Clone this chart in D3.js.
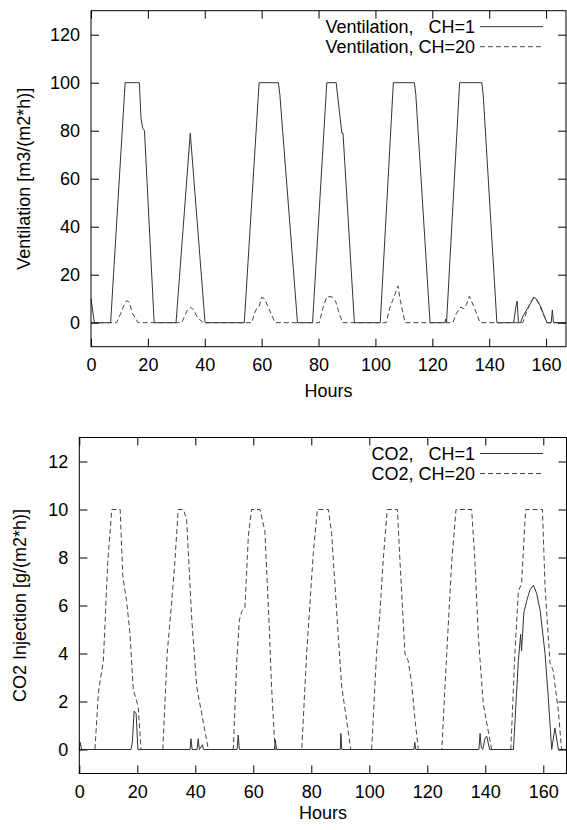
<!DOCTYPE html>
<html><head><meta charset="utf-8">
<script src="https://cdn.jsdelivr.net/npm/d3@7/dist/d3.min.js"></script>
<style>body{margin:0;background:#fff}svg{display:block}text{font-family:"Liberation Sans",Arial,sans-serif;fill:#000}</style>
</head><body><svg id="c" width="567" height="830"></svg>
<script>
// ---------- data ----------
const ventTicksY = [0,20,40,60,80,100,120];
const co2TicksY = [0,2,4,6,8,10,12];
const hourTicks = [0,20,40,60,80,100,120,140,160];

// Ventilation CH=1 (hours, value)
const vent1H = [0,1.2,6.9,12,17,17.6,18.2,18.8,22.2,29.9,34.9,40.1,53.9,59.1,65.9,66.4,72.6,77.9,82.9,86.2,88,88.2,88.6,92.6,101.7,106.3,113.7,114.2,119.2,124.4,124.7,125,129.6,137.4,137.9,142.7,148.6,149.3,149.8,150.3,151,152,153.5,155,155.6,156.5,158,160.3,161.8,162.2,162.6,167];
const vent1V = [10,0,0,100,100,85,81,80,0,0,79,0,0,100,100,95,0,0,100,100,81,79,79,0,0,100,100,95,0,0,1.5,0,100,100,95,0,0,6,9,0,0,3,6,9,10.6,10,7,0,0,5.3,0,0];
// Ventilation CH=20
const vent20H = [0,9,10.5,11.5,12.6,13.5,14.5,16.6,31.9,33,34,35,36,37.5,39.5,56.5,57.5,58.5,59.2,60,61,62.5,64.7,80.3,81.5,82.9,84.7,86,87.2,88.5,103.8,105,106.3,107.9,108.8,110.4,127.2,128.5,130,131,132,133,134.5,136.8,151.8,153,154.5,155.6,157,158.5,160.3,167];
const vent20V = [0,0,4,7,9.2,8.5,4,0,0,3,5.5,6.4,5.5,2,0,0,4,6.5,7,10.6,10,6,0,0,6,10.8,10.8,9,4,0,0,6,10,15.3,9,0,0,4,6.5,5.8,7.5,11,7,0,0,4,8.5,10.3,9,5,0,0];

// CO2 CH=1
const co21H = [0,0.3,0.8,17.8,18.3,18.9,19.6,20.2,38.2,38.5,38.9,40.6,41,41.4,42.5,42.8,43.3,54.4,54.8,55.2,67.3,67.6,68,90,90.2,90.5,115.4,115.7,116,137.8,138.2,138.6,139.1,140,140.5,141.5,149.7,151.4,152.2,152.5,153.3,154.3,155.4,156.6,157.7,158.9,160.6,161.7,162.9,164,165.2,168];
const co21V = [0,0.3,0,0,0.3,1.6,1.5,0,0,0.45,0,0,0.45,0,0.2,0,0,0,0.6,0,0,0.4,0,0,0.67,0,0,0.3,0,0,0.67,0.1,0,0.5,0.55,0,0,3.7,4.8,4.1,5.7,6.2,6.65,6.85,6.5,5.8,4.0,2.2,0,0.9,0,0];
// CO2 CH=20
const co220H = [0,5.4,6.6,8.3,9.8,11.2,14.1,15,16.3,17.5,18.6,20.3,21.3,28.8,30.3,31.9,33,34.1,35.9,37,38.8,40.5,42.2,44.5,53.1,54.3,55.2,56,57.1,58.3,59.4,62.3,64,65.5,66.3,67.5,76.7,78.4,80.7,82.1,85.9,87,88.2,89.3,90.5,92.2,93.6,100.8,102.5,103.7,104.8,106.2,109.7,110.6,112.3,113.4,114.6,115.8,116.9,125,126.7,128.4,129.9,135.3,136.4,137.6,139.3,140.8,142.2,148.8,150.2,151.4,152.5,153.9,159.7,160.6,162.3,163.4,165.2,166.3,168];
const co220V = [0,0,2.4,3.7,7.8,10,10,7.2,6.2,4.8,2.5,1.8,0,0,4,6.2,7.9,10,10,9.6,5.4,2.6,1.5,0,0,3.7,5.4,5.75,5.9,8.9,10,10,9.1,5.1,2.6,0,0,4,8.2,10,10,9,6.8,4.7,2.6,1.2,0,0,4,5.8,7.9,10,10,7.8,4,3.7,2.75,1.2,0,0,4,7.8,10,10,7.9,4.7,1.9,0.9,0,0,4,6.6,6.9,10,10,6.8,3.6,3.3,1.6,0,0];

// ---------- drawing ----------
const svg = d3.select("#c");
const FS = 18;

function panel(cfg){
  const {x0,x1,y0,y1,xmax,ymin,ymax,yticks,ytitle,ytitleX,series,legend} = cfg;
  const x = d3.scaleLinear().domain([0,xmax]).range([x0,x1]);
  const y = d3.scaleLinear().domain([ymin,ymax]).range([y1,y0]);
  const g = svg.append("g");
  const line = d3.line().x(d=>x(d[0])).y(d=>y(d[1]));
  series.forEach(s=>{
    const pts = s.h.map((h,i)=>[h,s.v[i]]);
    g.append("path").attr("d",line(pts)).attr("fill","none")
      .attr("stroke",s.color).attr("stroke-width",1)
      .attr("stroke-dasharray",s.dash||null);
  });
  const TL = 8;
  const ax = [
    d3.axisBottom(x).tickValues(hourTicks).tickSize(-TL).tickPadding(12),
    d3.axisTop(x).tickValues(hourTicks).tickSize(-TL).tickFormat(""),
    d3.axisLeft(y).tickValues(yticks).tickSize(-TL).tickPadding(11),
    d3.axisRight(y).tickValues(yticks).tickSize(-TL).tickFormat("")
  ];
  const pos = [[0,y1],[0,y0],[x0,0],[x1,0]];
  ax.forEach((a,i)=>{
    const ag = g.append("g").attr("transform",`translate(${pos[i][0]},${pos[i][1]})`).call(a);
    ag.select(".domain").remove();
    ag.selectAll("line").attr("stroke","#000");
    ag.selectAll("text").attr("font-size",FS).style("font-family",'"Liberation Sans",Arial,sans-serif');
  });
  g.append("rect").attr("x",x0).attr("y",y0).attr("width",x1-x0).attr("height",y1-y0)
    .attr("fill","none").attr("stroke","#000").attr("stroke-width",1);
  g.append("text").attr("x",(x0+x1)/2).attr("y",cfg.hoursY).attr("text-anchor","middle")
    .attr("font-size",FS).text("Hours");
  g.append("text").attr("transform",`translate(${ytitleX},${(y0+y1)/2}) rotate(-90)`)
    .attr("text-anchor","middle").attr("font-size",FS).text(ytitle);
  legend.forEach((l,i)=>{
    const yy = y0+16+i*20;
    g.append("text").attr("x",475).attr("y",yy+6).attr("text-anchor","end")
      .attr("font-size",FS).attr("xml:space","preserve").style("white-space","pre").text(l.label);
    g.append("line").attr("x1",480).attr("x2",543).attr("y1",yy).attr("y2",yy)
      .attr("stroke",l.color).attr("stroke-width",1).attr("stroke-dasharray",l.dash||null);
  });
}

panel({x0:91,x1:566,y0:10.7,y1:346.7,xmax:167,ymin:-10,ymax:130,yticks:ventTicksY,
  ytitle:"Ventilation [m3/(m2*h)]",ytitleX:30,hoursY:397,
  series:[{h:vent1H,v:vent1V,color:"#333"},{h:vent20H,v:vent20V,color:"#444",dash:"5,3"}],
  legend:[{label:"Ventilation,   CH=1",color:"#333"},{label:"Ventilation, CH=20",color:"#444",dash:"5,3"}]});

panel({x0:79.3,x1:566.5,y0:437.5,y1:773.5,xmax:168,ymin:-1,ymax:13,yticks:co2TicksY,
  ytitle:"CO2 Injection [g/(m2*h)]",ytitleX:26,hoursY:819,
  series:[{h:co220H,v:co220V,color:"#444",dash:"5,3"},{h:co21H,v:co21V,color:"#333"}],
  legend:[{label:"CO2,   CH=1",color:"#333"},{label:"CO2, CH=20",color:"#444",dash:"5,3"}]});
</script></body></html>
